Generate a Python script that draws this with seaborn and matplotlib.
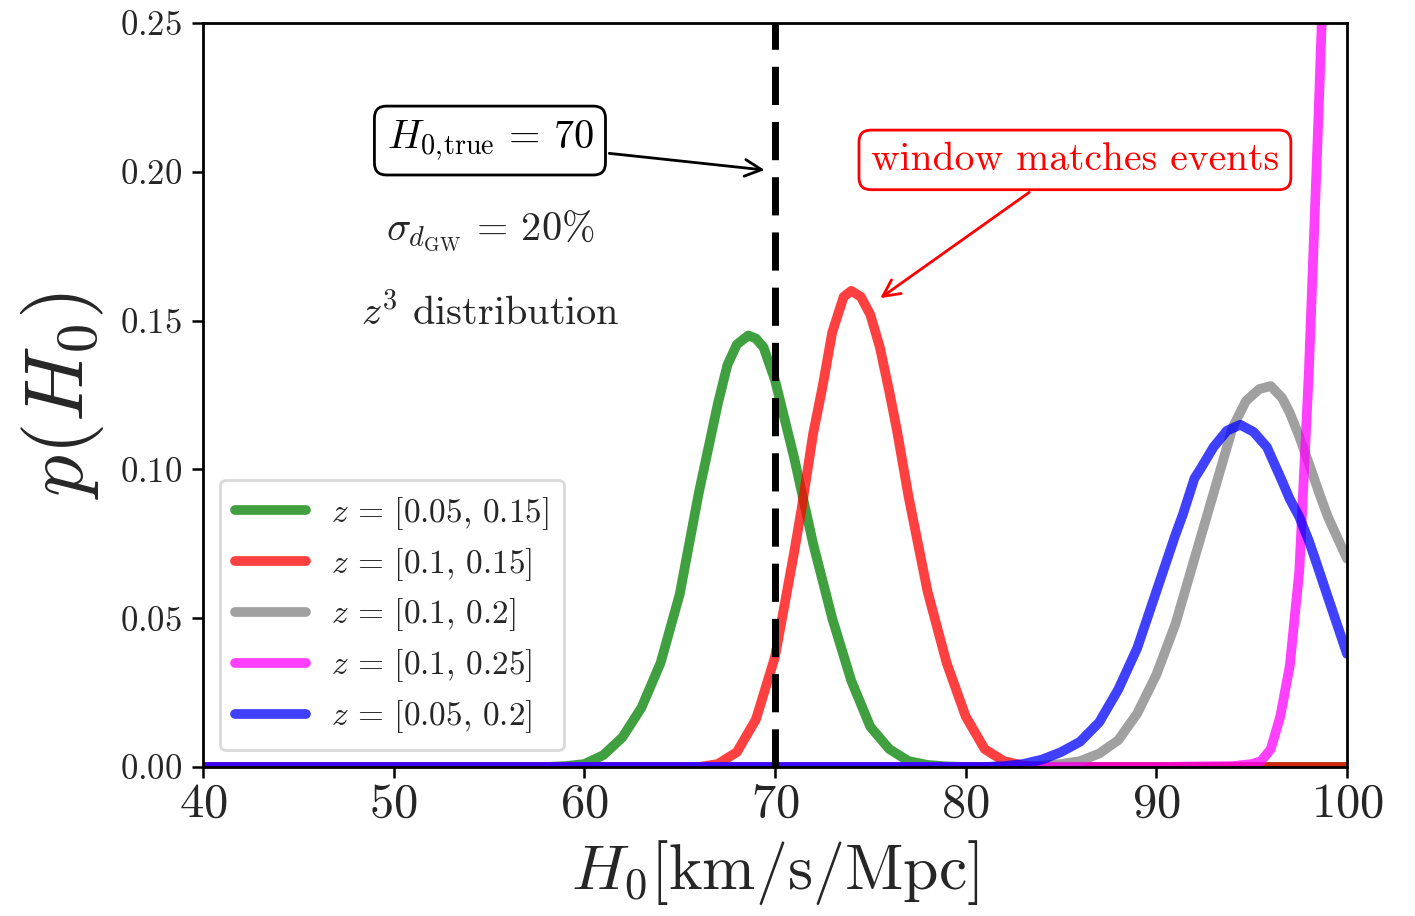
import matplotlib
matplotlib.use("Agg")
import matplotlib.pyplot as plt
import seaborn as sns
import pandas as pd

# ---------------- data ----------------
H0_TRUE = 70

green_h = [40, 58, 59, 60, 61, 62, 63, 64, 65, 66, 67, 67.5, 68, 68.6, 69, 69.4, 70, 71, 72, 73, 74, 75, 76, 77, 78, 79, 80, 100]
green_p = [0, 0, 0.0003, 0.001, 0.004, 0.010, 0.020, 0.035, 0.058, 0.092, 0.122, 0.135, 0.142, 0.145, 0.144, 0.141, 0.130,
           0.104, 0.075, 0.050, 0.029, 0.0135, 0.006, 0.002, 0.0007, 0.0002, 0, 0]

red_h = [40, 66, 67, 68, 69, 70, 71, 71.4, 72, 72.5, 73, 73.6, 74, 74.5, 75, 75.5, 76, 76.4, 77, 78, 79, 80, 81, 82, 83, 84, 100]
red_p = [0, 0, 0.001, 0.005, 0.016, 0.037, 0.072, 0.087, 0.112, 0.128, 0.146, 0.158, 0.160, 0.158, 0.152, 0.141, 0.126,
         0.113, 0.091, 0.059, 0.035, 0.017, 0.006, 0.002, 0.0005, 0, 0]

gray_h = [40, 83, 84, 85, 86, 87, 88, 89, 90, 91, 92, 93, 94, 94.7, 95.4, 96, 96.6, 97, 97.5, 98, 98.6, 99, 100]
gray_p = [0, 0, 0.0005, 0.001, 0.002, 0.0045, 0.009, 0.018, 0.031, 0.048, 0.070, 0.092, 0.114, 0.123, 0.127, 0.128, 0.124,
          0.119, 0.111, 0.102, 0.091, 0.084, 0.070]

magenta_h = [40, 90, 94, 95, 95.5, 96, 96.5, 97, 97.5, 98, 98.5, 99, 99.5, 100]
magenta_p = [0, 0, 0.0003, 0.001, 0.002, 0.006, 0.017, 0.034, 0.066, 0.133, 0.218, 0.31, 0.42, 0.55]

blue_h = [40, 81, 82, 83, 84, 85, 86, 87, 88, 89, 90, 90.5, 91, 91.4, 92, 92.3, 93, 93.7, 94.4, 95.1, 95.8, 96.6, 97, 97.5,
          98, 98.4, 99, 100]
blue_p = [0, 0, 0.0003, 0.001, 0.0025, 0.005, 0.0085, 0.015, 0.026, 0.040, 0.059, 0.0685, 0.078, 0.085, 0.097, 0.100,
          0.1075, 0.113, 0.115, 0.1126, 0.1075, 0.096, 0.090, 0.084, 0.076, 0.0685, 0.057, 0.038]

labels = [r"$z\,=\,[0.05,\,0.15]$", r"$z\,=\,[0.1,\,0.15]$", r"$z\,=\,[0.1,\,0.2]$",
          r"$z\,=\,[0.1,\,0.25]$", r"$z\,=\,[0.05,\,0.2]$"]
colors = ["green", "red", "gray", "magenta", "blue"]

x_ticks = [40, 50, 60, 70, 80, 90, 100]
y_ticks = [0.00, 0.05, 0.10, 0.15, 0.20, 0.25]

# ---------------- style ----------------
sns.set_style("ticks")
plt.rcParams["font.family"] = ["cmr10", "DejaVu Serif"]
plt.rcParams["mathtext.fontset"] = "cm"
plt.rcParams["axes.unicode_minus"] = False

fig, ax = plt.subplots(figsize=(14.15, 9.16), dpi=100)
fig.subplots_adjust(left=203 / 1415, right=1347 / 1415, bottom=1 - 767 / 916, top=1 - 23 / 916)

series = [(green_h, green_p), (red_h, red_p), (gray_h, gray_p), (magenta_h, magenta_p), (blue_h, blue_p)]
for (h, p), lab, col in zip(series, labels, colors):
    df = pd.DataFrame({"H0": h, "p": p})
    sns.lineplot(data=df, x="H0", y="p", ax=ax, color=col, lw=7, alpha=0.75, label=lab,
                 estimator=None, sort=True)

ax.axvline(H0_TRUE, color="black", lw=5, dashes=(5.5, 2.45), zorder=5)

ax.set_xlim(40, 100)
ax.set_ylim(0, 0.25)
ax.set_xticks(x_ticks)
ax.set_xticklabels([rf"${v}$" for v in x_ticks], fontsize=35)
ax.set_yticks(y_ticks)
ax.set_yticklabels([rf"${v:.2f}$" for v in y_ticks], fontsize=25)
ax.tick_params(axis="both", direction="out", length=8, width=1.8, color="black")
ax.tick_params(axis="y", pad=7)
for s in ax.spines.values():
    s.set_linewidth(2)
    s.set_color("black")

ax.set_xlabel(r"$H_0[\mathrm{km/s/Mpc}]$", fontsize=46, labelpad=8)
ax.set_ylabel(r"$p(H_0)$", fontsize=60, labelpad=10)

# annotations
ax.annotate(r"$H_{0,\!\mathrm{true}}\,=\,70$", xy=(69.6, 0.2005), xytext=(55.05, 0.2105),
            fontsize=29, ha="center", va="center", color="black",
            bbox=dict(boxstyle="round,pad=0.3", fc="white", ec="black", lw=2),
            arrowprops=dict(arrowstyle="->", color="black", lw=2, mutation_scale=30))
ax.text(55.05, 0.180, r"$\sigma_{d_{\mathrm{GW}}}\,=\,20\%$", fontsize=29, ha="center", va="center")
ax.text(55.05, 0.1525, r"$z^3$ distribution", fontsize=29, ha="center", va="center")

ax.annotate("window matches events", xy=(75.4, 0.157), xytext=(85.73, 0.204),
            fontsize=28.5, ha="center", va="center", color="red",
            bbox=dict(boxstyle="round,pad=0.3", fc="white", ec="red", lw=2),
            arrowprops=dict(arrowstyle="->", color="red", lw=2, mutation_scale=30))

leg = ax.legend(loc="lower left", fontsize=24, handlelength=2.15, handletextpad=0.75,
                labelspacing=0.42, frameon=True, fancybox=True, framealpha=0.8, borderpad=0.45)
leg.get_frame().set_edgecolor("#d0d0d0")
leg.get_frame().set_linewidth(2)
for l in leg.get_lines():
    l.set_linewidth(7)

fig.savefig("out.png", dpi=100)
